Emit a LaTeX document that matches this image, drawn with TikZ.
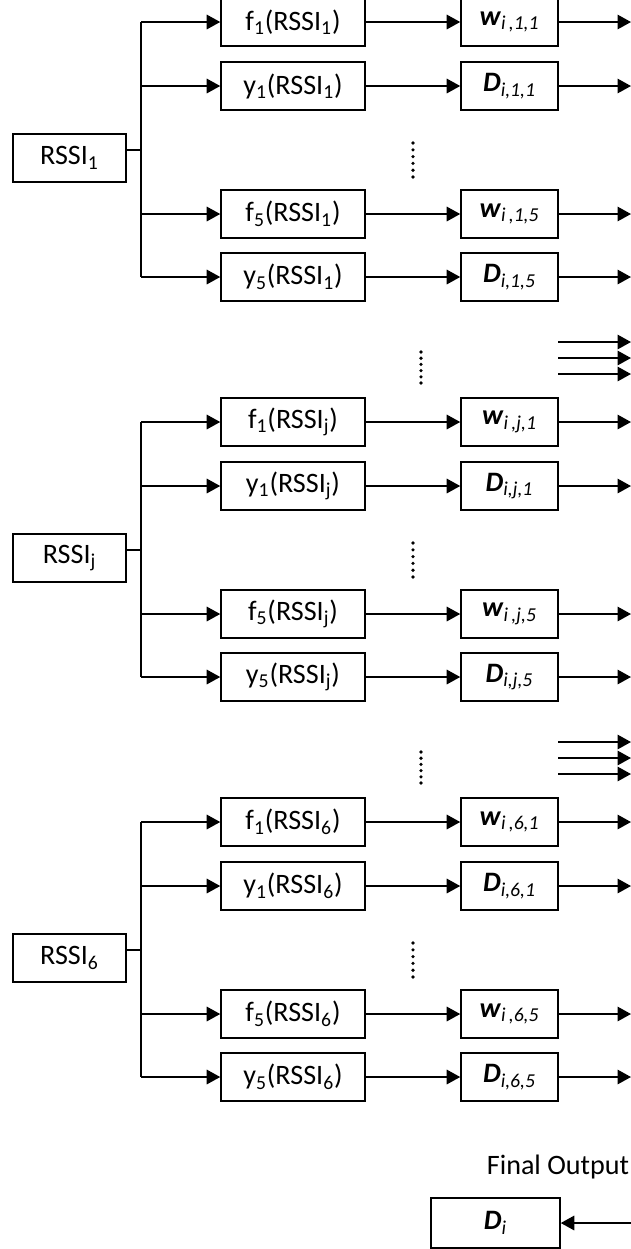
\documentclass[tikz,border=0pt]{standalone}
\usepackage{fontspec}
\setmainfont{Carlito}
\usetikzlibrary{arrows.meta,positioning}

\newcommand{\wlab}[2]{\textbf{\textit{w}}\textsubscript{\textit{i\,,#1,#2}}}
\newcommand{\dlab}[2]{\textbf{\textit{D}}\textsubscript{\textit{i,#1,#2}}}

\begin{document}
\begin{tikzpicture}[
  x=0.02cm, y=-0.02cm,
  font=\fontsize{16}{19}\selectfont,
  box/.style={draw, line width=0.9pt, inner sep=0pt, minimum height=0.96cm, align=center},
  inbox/.style={box, minimum width=2.26cm},
  funbox/.style={box, minimum width=2.88cm},
  outbox/.style={box, minimum width=1.94cm},
  arr/.style={-{Triangle[length=2.7mm,width=2.9mm]}, line width=0.9pt},
  lne/.style={line width=0.9pt},
  vdot/.style={fill=black}
]
\useasboundingbox (0,0) rectangle (631,1249);
% --- one block per RSSI input ---
\foreach \blk/\sub/\yo in {a/1/0, b/j/400, c/6/800} {
  \node[inbox] (rssi\blk) at (69.5,158+\yo) {RSSI\textsubscript{\sub}};
  \coordinate (hub\blk) at (141,150+\yo);
  \foreach \row/\fn/\idx/\yr/\outlab in {1/f/1/22/\wlab, 2/y/1/86/\dlab, 3/f/5/214/\wlab, 4/y/5/277/\dlab} {
    \node[funbox] (fun\row\blk) at (293,\yr+\yo) {\fn\textsubscript{\idx}(RSSI\textsubscript{\sub})};
    \node[outbox] (out\row\blk) at (509.5,\yr+\yo) {\outlab{\sub}{\idx}};
    \coordinate (end\row\blk) at (631,\yr+\yo);
    \draw[arr] (fun\row\blk.west -| hub\blk) -- (fun\row\blk.west);
    \draw[arr] (fun\row\blk) -- (out\row\blk);
    \draw[arr] (out\row\blk) -- (end\row\blk);
  }
  % trunk and stub
  \draw[lne] (fun1\blk.west -| hub\blk) -- (fun4\blk.west -| hub\blk);
  \draw[lne] (hub\blk -| rssi\blk.east) -- (hub\blk);
  % dots between f1/y1 and f5/y5
  \foreach \k in {0,...,5}
    \fill[vdot] (413,143+\yo+\k*6.8) circle (1.8);
}
% --- gaps between blocks ---
\foreach \g/\yo in {a/0, b/400} {
  \foreach \k in {0,...,5}
    \fill[vdot] (421,352+\yo+\k*6.2) circle (1.8);
  \foreach \n/\yr in {1/342, 2/358, 3/374} {
    \coordinate (gs\g\n) at (558,\yr+\yo);
    \coordinate (ge\g\n) at (631,\yr+\yo);
    \draw[arr] (gs\g\n) -- (ge\g\n);
  }
}
% --- final output ---
\node (final) at (558,1167) {Final Output};
\node[box, minimum width=2.58cm, minimum height=1cm] (di) at (495.5,1223) {\textbf{\textit{D}}\textsubscript{\textit{i}}};
\coordinate (diin) at (631,1223);
\draw[arr] (diin) -- (di.east);
\end{tikzpicture}
\end{document}
